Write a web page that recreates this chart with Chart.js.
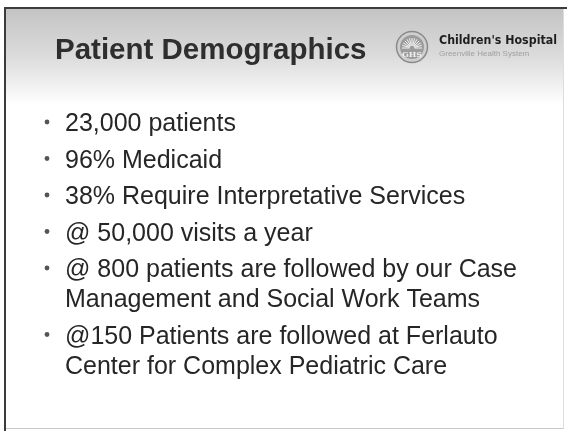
<!DOCTYPE html>
<html>
<head>
<meta charset="utf-8">
<title>Patient Demographics</title>
<script src="https://cdn.jsdelivr.net/npm/chart.js@4"></script>
<style>
  html, body { margin: 0; padding: 0; background: #ffffff; }
  #box { position: relative; width: 567px; height: 431px; }
</style>
</head>
<body>
<div id="box"><canvas id="slide"></canvas></div>
<script>
// =========================
// SLIDE CONTENT
// =========================

const titulo = "Patient Demographics";
const logoNombre = "Children's Hospital";
const logoSub = "Greenville Health System";
const logoSigla = "GHS";

const bullets = [
    ["23,000 patients"],
    ["96% Medicaid"],
    ["38% Require Interpretative Services"],
    ["@ 50,000 visits a year"],
    ["@ 800 patients are followed by our Case", "Management and Social Work Teams"],
    ["@150 Patients are followed at Ferlauto", "Center for Complex Pediatric Care"]
];

// =========================
// FONDO Y MARCO
// =========================

const fondo = {
    id: "fondo",
    beforeDraw(chart) {
        const ctx = chart.ctx;
        ctx.save();
        ctx.fillStyle = "#FFFFFF";
        ctx.fillRect(0, 0, chart.width, chart.height);

        const g = ctx.createLinearGradient(0, 9, 0, 105);
        g.addColorStop(0, "#C4C4C4");
        g.addColorStop(.5, "#DCDCDC");
        g.addColorStop(1, "#FFFFFF");
        ctx.fillStyle = g;
        ctx.fillRect(6, 9, 557, 96);

        // marco
        ctx.fillStyle = "#3C3C3C";
        ctx.fillRect(4, 7, 563, 2);
        ctx.fillRect(4, 7, 2, 424);
        ctx.fillStyle = "#C8C8C8";
        ctx.fillRect(6, 428, 557, 1);
        ctx.fillStyle = "#DDDDDD";
        ctx.fillRect(563, 9, 1, 420);
        ctx.restore();
    }
};

// =========================
// TEXTO Y LOGO
// =========================

const texto = {
    id: "texto",
    afterDraw(chart) {
        const ctx = chart.ctx;
        ctx.save();

        // titulo
        ctx.fillStyle = "#2E2E2E";
        ctx.font = "bold 29.5px 'Liberation Sans', Arial, sans-serif";
        ctx.textBaseline = "alphabetic";
        ctx.fillText(titulo, 55, 59);

        // logo
        const cx = 412, cy = 47, r = 15.5;
        ctx.beginPath();
        ctx.arc(cx, cy, r, 0, Math.PI * 2);
        ctx.fillStyle = "#CFCFCF";
        ctx.fill();
        ctx.lineWidth = 1.5;
        ctx.strokeStyle = "#8A8A8A";
        ctx.stroke();
        ctx.beginPath();
        ctx.arc(cx, cy, r - 3.5, 0, Math.PI * 2);
        ctx.fillStyle = "#9C9C9C";
        ctx.fill();
        ctx.strokeStyle = "#F4F4F4";
        ctx.lineWidth = 1;
        for (let k = 0; k < 13; k++) {
            const a = Math.PI + k * Math.PI / 12;
            ctx.beginPath();
            ctx.moveTo(cx + Math.cos(a) * 2.5, cy + 1 + Math.sin(a) * 2.5);
            ctx.lineTo(cx + Math.cos(a) * 10, cy + 1 + Math.sin(a) * 10);
            ctx.stroke();
        }
        ctx.fillStyle = "#F0F0F0";
        ctx.font = "bold 8px 'DejaVu Serif', serif";
        ctx.textAlign = "center";
        ctx.fillText(logoSigla, cx, cy + 10);

        ctx.textAlign = "left";
        ctx.fillStyle = "#1E1E1E";
        ctx.font = "bold 13px 'DejaVu Sans', sans-serif";
        ctx.fillText(logoNombre, 439, 44, 118);
        ctx.fillStyle = "#A0A0A0";
        ctx.font = "8px 'Liberation Sans', sans-serif";
        ctx.fillText(logoSub, 439, 56, 98);

        // vinetas
        ctx.font = "25px 'Liberation Sans', Arial, sans-serif";
        let y = 131;
        bullets.forEach(lineas => {
            ctx.beginPath();
            ctx.arc(47, y - 9, 2.4, 0, Math.PI * 2);
            ctx.fillStyle = "#555555";
            ctx.fill();
            ctx.fillStyle = "#262626";
            lineas.forEach((t, i) => {
                ctx.fillText(t, 65, y);
                y += (i < lineas.length - 1) ? 30 : 0;
            });
            y += 36.5;
        });

        ctx.restore();
    }
};

new Chart(document.getElementById("slide"), {

    type: "scatter",

    data: {
        datasets: []
    },

    options: {
        responsive: true,
        maintainAspectRatio: false,
        animation: false,
        events: [],

        plugins: {
            legend: { display: false },
            tooltip: { enabled: false }
        },

        scales: {
            x: { display: false },
            y: { display: false }
        }
    },

    plugins: [fondo, texto]

});
</script>
</body>
</html>
